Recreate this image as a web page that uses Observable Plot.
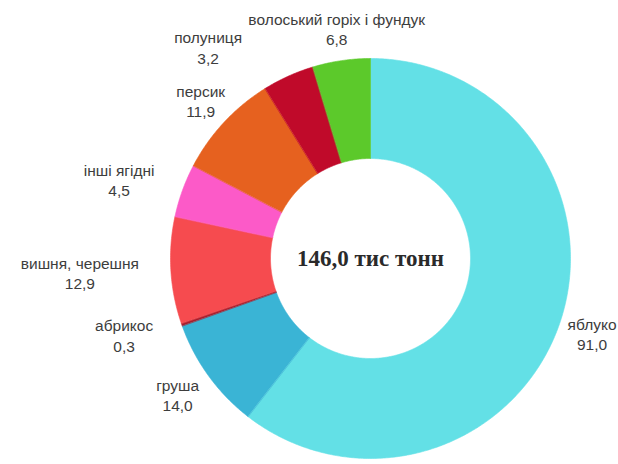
<!DOCTYPE html>
<html><head><meta charset="utf-8">
<script src="https://cdn.jsdelivr.net/npm/d3@7"></script>
<script src="https://cdn.jsdelivr.net/npm/@observablehq/plot@0.6"></script>
<style>html,body{margin:0;padding:0;background:#fff}#chart svg{display:block}</style>
</head><body><div id="chart"></div>
<script>
// ---- data (clockwise from 12 o'clock) ----
const categories = ["яблуко", "груша", "абрикос", "вишня, черешня", "інші ягідні", "персик", "полуниця", "волоський горіх і фундук"];
const valueLabels = ["91,0", "14,0", "0,3", "12,9", "4,5", "11,9", "3,2", "6,8"];
// slice sizes as drawn in the picture (thousand tonnes, estimated from the angles)
const shares = [88.4, 13.2, 0.3, 12.6, 6.3, 12.4, 6.1, 6.8];
const colors = ["#63e0e6", "#3ab4d5", "#a51e2d", "#f64b4f", "#fc5ac8", "#e6611f", "#c00a2a", "#5cc92b"];
const totalLabel = "146,0 тис тонн";

// ---- layout ----
const W = 618, H = 464;
const CX = 370, CY = 258, R = 200;      // pixel centre / outer radius
const INNER = 0.5;                        // inner radius (fraction of outer)
const LABEL_R = 1.16, CLEAR_R = 1.04;     // label ray radius and clearance radius
const FONT = "Liberation Sans, Arial, sans-serif", FS = 15.5, LH = 1.3;
const PAD = 6 / R;

const total = d3.sum(shares);
const slices = [];
let acc = 0;
shares.forEach((v, i) => {
  const a0 = acc / total * 2 * Math.PI;
  acc += v;
  const a1 = acc / total * 2 * Math.PI;
  slices.push({i, cat: categories[i], a0, a1});
});

// polygon points for each ring segment
const pts = [];
for (const s of slices) {
  const n = Math.max(2, Math.ceil((s.a1 - s.a0) / (Math.PI / 360)));
  for (let k = 0; k <= n; k++) {
    const a = s.a0 + (s.a1 - s.a0) * k / n;
    pts.push({cat: s.cat, x: Math.sin(a), y: Math.cos(a)});
  }
  for (let k = n; k >= 0; k--) {
    const a = s.a0 + (s.a1 - s.a0) * k / n;
    pts.push({cat: s.cat, x: INNER * Math.sin(a), y: INNER * Math.cos(a)});
  }
}

// label placement: on the slice's mid-angle ray; near-horizontal rays get the
// label block set beside the ray point; then pushed sideways to clear the ring
// and the labels already placed
const ctx = document.createElement("canvas").getContext("2d");
ctx.font = `${FS}px Liberation Sans`;
const lineStep = FS * LH / R, halfGlyph = FS * 0.45 / R;
function lineBoxes(L) {
  return L.widths.map((w, k) => {
    const cy = L.y + (k === 0 ? lineStep / 2 : -lineStep / 2);
    return {x0: L.x - w / 2, x1: L.x + w / 2, y0: cy - halfGlyph, y1: cy + halfGlyph};
  });
}
const placed = [];
for (const s of [...slices].reverse()) {
  const m = (s.a0 + s.a1) / 2;
  const lines = [s.cat, valueLabels[s.i]];
  const widths = lines.map(t => ctx.measureText(t).width / R);
  const w = Math.max(...widths);
  const sn = Math.sin(m);
  const L = {i: s.i, text: lines.join("\n"), widths, x: LABEL_R * sn, y: LABEL_R * Math.cos(m)};
  const g = Math.max(0, Math.min(1, (Math.abs(sn) - 0.84) / 0.08));
  L.x += sn * (w / 2) * g;
  const dir = sn >= 0 ? 1 : -1;
  const blocked = () => lineBoxes(L).some(b => {
    const nx = Math.max(b.x0, Math.min(0, b.x1)), ny = Math.max(b.y0, Math.min(0, b.y1));
    if (Math.hypot(nx, ny) < CLEAR_R) return true;
    return placed.some(P => lineBoxes(P).some(q =>
      b.x0 < q.x1 + PAD && b.x1 > q.x0 - PAD && b.y0 < q.y1 + PAD && b.y1 > q.y0 - PAD));
  });
  let guard = 0;
  while (blocked() && guard++ < 400) L.x += dir * 0.005;
  const xmin = -CX / R + w / 2 + 0.01, xmax = (W - CX) / R - w / 2 - 0.01;
  L.x = Math.max(xmin, Math.min(xmax, L.x));
  placed.push(L);
}
const labels = placed.sort((a, b) => a.i - b.i);

const chart = Plot.plot({
  width: W, height: H,
  margin: 0,
  x: {domain: [-CX / R, (W - CX) / R], range: [0, W], axis: null},
  y: {domain: [-(H - CY) / R, CY / R], range: [H, 0], axis: null},
  color: {domain: categories, range: colors},
  style: {background: "#fff"},
  marks: [
    Plot.line(pts, {x: "x", y: "y", z: "cat", fill: "cat", stroke: "cat", strokeWidth: 0.6, curve: "linear-closed"}),
    Plot.text(labels, {x: "x", y: "y", text: "text", fontSize: FS, lineHeight: LH, fontFamily: FONT, fill: "#3d3d3d"}),
    Plot.text([totalLabel], {x: () => 0, y: () => 0, text: d => d, fontSize: 23, fontWeight: "bold", fontFamily: "Liberation Serif, Times New Roman, serif", fill: "#2a2a2a"})
  ]
});
document.getElementById("chart").appendChild(chart);
</script>
</body></html>
